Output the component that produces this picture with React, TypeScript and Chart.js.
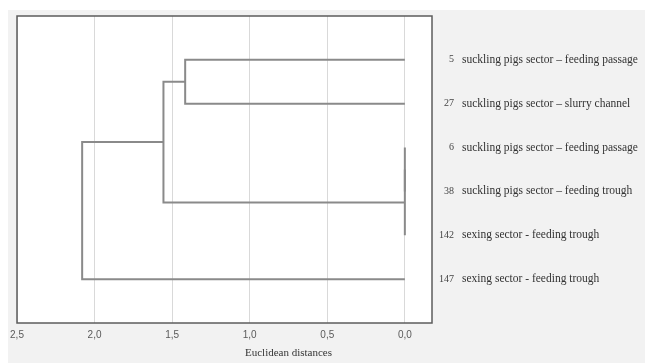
import React, { useEffect, useRef } from "react";
import { Chart, registerables } from "chart.js";

Chart.register(...registerables);

// Leaves (top to bottom)
const leafIds = ["5", "27", "6", "38", "142", "147"];
const leafNames = [
  "suckling pigs sector \u2013 feeding passage",
  "suckling pigs sector \u2013 slurry channel",
  "suckling pigs sector \u2013 feeding passage",
  "suckling pigs sector \u2013 feeding trough",
  "sexing sector - feeding trough",
  "sexing sector - feeding trough",
];

// Linkage: nodes 0..5 are leaves, merge k creates node 6+k
const mergeA = [2, 6, 0, 8, 9];
const mergeB = [3, 4, 1, 7, 5];
const mergeHeight = [0.0, 0.0, 1.416, 1.556, 2.08];

const xTicks = [0, 0.5, 1.0, 1.5, 2.0, 2.5];
const xMin = -0.175;
const xMax = 2.5;
const axisTitle = "Euclidean distances";

function buildDatasets() {
  const pos: number[] = leafIds.map((_, i) => i + 1);
  const h: number[] = leafIds.map(() => 0);
  const sets: any[] = [];
  for (let k = 0; k < mergeA.length; k++) {
    const a = mergeA[k];
    const b = mergeB[k];
    const hh = mergeHeight[k];
    sets.push({
      data: [
        { x: h[a], y: pos[a] },
        { x: hh, y: pos[a] },
        { x: hh, y: pos[b] },
        { x: h[b], y: pos[b] },
      ],
      showLine: true,
      borderColor: "#8a8a8a",
      borderWidth: 2,
      pointRadius: 0,
      tension: 0,
      fill: false,
      yAxisID: "y",
    });
    pos.push((pos[a] + pos[b]) / 2);
    h.push(hh);
  }
  return sets;
}

const bgPlugin = {
  id: "bgFrame",
  beforeDraw(chart: any) {
    const { ctx, chartArea, width, height } = chart;
    ctx.save();
    ctx.fillStyle = "#f2f2f2";
    ctx.fillRect(0, 0, width, height);
    ctx.fillStyle = "#ffffff";
    ctx.fillRect(chartArea.left, chartArea.top, chartArea.right - chartArea.left, chartArea.bottom - chartArea.top);
    ctx.restore();
  },
  afterDraw(chart: any) {
    const { ctx, chartArea } = chart;
    ctx.save();
    ctx.strokeStyle = "#5c5c5c";
    ctx.lineWidth = 1.5;
    ctx.strokeRect(chartArea.left, chartArea.top, chartArea.right - chartArea.left, chartArea.bottom - chartArea.top);
    ctx.fillStyle = "#333";
    ctx.font = "11px 'Liberation Serif'";
    ctx.textAlign = "center";
    ctx.textBaseline = "middle";
    ctx.fillText(axisTitle, (chartArea.left + chartArea.right) / 2 + 64, chartArea.bottom + 30);
    ctx.restore();
  },
};

const leafTicks = (s: any) => {
  s.ticks = leafIds.map((_, i) => ({ value: i + 1 }));
};

export default function App() {
  const ref = useRef<HTMLCanvasElement>(null);
  useEffect(() => {
    if (!ref.current) return;
    const chart = new Chart(ref.current, {
      type: "scatter",
      data: { datasets: buildDatasets() },
      plugins: [bgPlugin],
      options: {
        animation: false,
        responsive: false,
        layout: { padding: { left: 9, top: 6, right: 0, bottom: 0 } },
        plugins: { legend: { display: false }, tooltip: { enabled: false } },
        scales: {
          x: {
            type: "linear",
            reverse: true,
            min: xMin,
            max: xMax,
            afterBuildTicks: (s: any) => {
              s.ticks = xTicks.map((v) => ({ value: v }));
            },
            afterFit: (s: any) => {
              s.height = 40;
            },
            grid: { color: "#d9d9d9", lineWidth: 1, drawTicks: false },
            border: { display: false },
            ticks: {
              padding: 6,
              color: "#5a5a5a",
              font: { family: "'Liberation Sans'", size: 10 },
              callback: (v: any) => Number(v).toFixed(1).replace(".", ","),
            },
          },
          y: {
            type: "linear",
            position: "right",
            weight: 0,
            reverse: true,
            min: 0,
            max: 7,
            afterBuildTicks: leafTicks,
            afterFit: (s: any) => {
              s.width = 22;
              s.paddingTop = 0;
              s.paddingBottom = 0;
            },
            grid: { display: false },
            border: { display: false },
            ticks: {
              autoSkip: false,
              padding: 0,
              crossAlign: "far",
              color: "#444",
              font: { family: "'Liberation Serif'", size: 10 },
              callback: (v: any) => leafIds[Number(v) - 1] ?? "",
            },
          },
          y2: {
            type: "linear",
            position: "right",
            weight: 1,
            reverse: true,
            min: 0,
            max: 7,
            afterBuildTicks: leafTicks,
            afterFit: (s: any) => {
              s.width = 191;
              s.paddingTop = 0;
              s.paddingBottom = 0;
            },
            grid: { display: false },
            border: { display: false },
            ticks: {
              autoSkip: false,
              padding: 0,
              crossAlign: "near",
              color: "#333",
              font: { family: "'Liberation Serif'", size: 11.5 },
              callback: (v: any) => leafNames[Number(v) - 1] ?? "",
            },
          },
        },
      } as any,
    });
    return () => chart.destroy();
  }, []);
  return (
    <div style={{ position: "absolute", left: 8, top: 10, width: 637, height: 353 }}>
      <canvas ref={ref} width={637} height={353} />
    </div>
  );
}
